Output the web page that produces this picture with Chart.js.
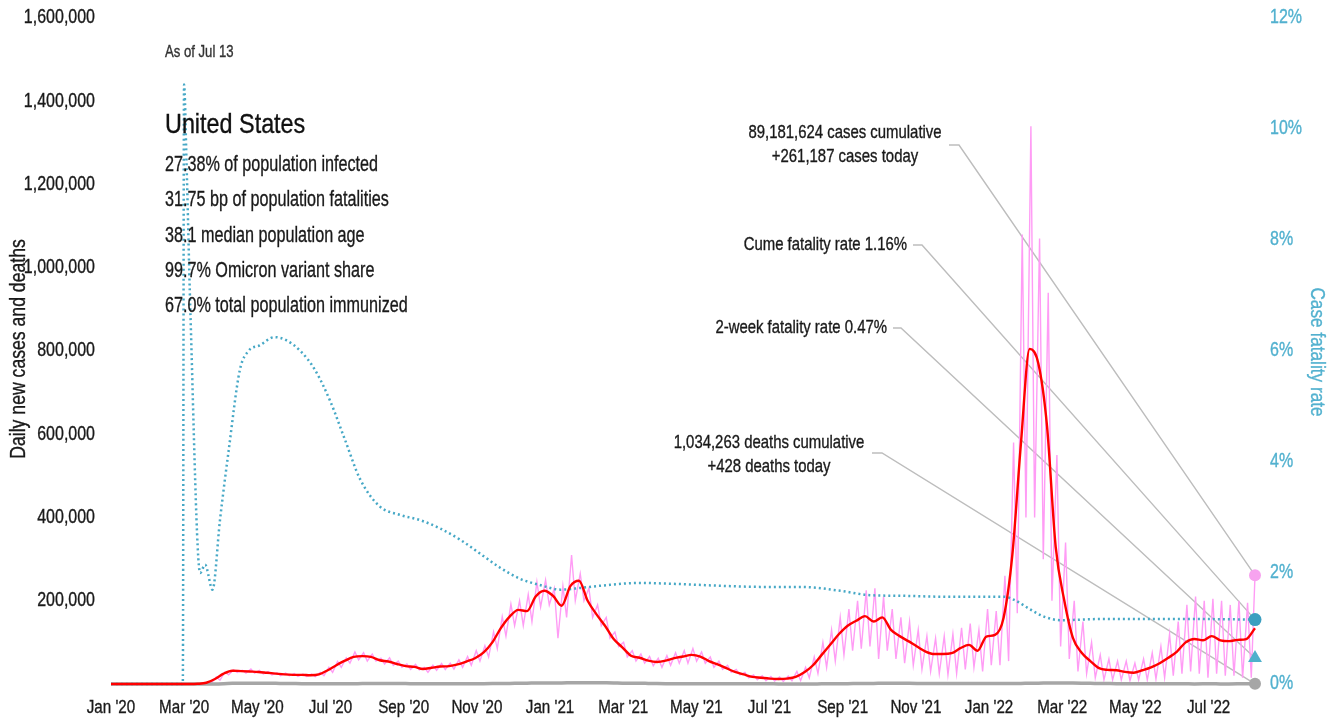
<!DOCTYPE html>
<html>
<head>
<meta charset="utf-8">
<script src="https://cdn.jsdelivr.net/npm/chart.js@4.4.1/dist/chart.umd.min.js"></script>
<style>
  html, body { margin: 0; padding: 0; background: #fff; }
  #wrap { width: 1335px; height: 722px; position: relative; }
</style>
</head>
<body>
<div id="wrap"><canvas id="chart"></canvas></div>
<script>
// ---- Data ----
// x is the day index counted from Jan 1, 2020; the last day is Jul 13, 2022
const LAST_DAY = 924;
const monthLabels = ["Jan '20", "Mar '20", "May '20", "Jul '20", "Sep '20", "Nov '20",
  "Jan '21", "Mar '21", "May '21", "Jul '21", "Sep '21", "Nov '21",
  "Jan '22", "Mar '22", "May '22", "Jul '22"];
const tickStepDays = 59.1;

// 7-day average of new cases, thousands, one value per week (week i starts on day 7*i)
const avgCasesK = [
  0, 0, 0, 0, 0, 0, 0, 0, 0, 0,
  0.5, 3, 12, 25, 32, 31, 30, 29, 27, 25,
  23, 22, 22, 21, 23, 33, 45, 56, 65, 67,
  65, 57, 54, 48, 43, 41, 36, 39, 42, 43,
  47, 54, 62, 76, 100, 135, 162, 178, 175, 210,
  224, 212, 188, 235, 248, 200, 168, 140, 108, 88,
  68, 63, 56, 53, 56, 62, 66, 70, 66, 55,
  47, 38, 29, 23, 17, 15, 13, 12, 13, 17,
  28, 45, 70, 95, 120, 140, 152, 163, 150, 160,
  130, 115, 103, 90, 78, 72, 72, 74, 86, 94,
  80, 114, 118, 160, 310, 580, 805, 770, 620, 330,
  200, 110, 75, 55, 38, 34, 33, 29, 27, 33,
  40, 50, 63, 78, 100, 108, 105, 115, 105, 103,
  106, 108, 134
];

// daily new cases, thousands: weekday high and weekend low of each week
const dailyHighK = [
  0, 0, 0, 0, 0, 0, 0, 0, 0, 0.1,
  0.8, 5, 17, 29, 34, 33, 36, 33, 30, 27,
  26, 25, 24, 24, 28, 40, 54, 63, 77, 75,
  72, 62, 63, 55, 48, 47, 40, 45, 49, 50,
  58, 66, 80, 92, 125, 162, 192, 200, 215, 245,
  250, 230, 235, 310, 265, 230, 190, 160, 125, 100,
  80, 72, 66, 62, 68, 75, 80, 85, 77, 65,
  55, 45, 35, 28, 22, 20, 18, 17, 19, 30,
  40, 65, 100, 130, 160, 180, 200, 225, 230, 210,
  180, 160, 150, 130, 115, 110, 115, 120, 135, 145,
  130, 180, 175, 260, 580, 1080, 1340, 1070, 940, 550,
  340, 200, 150, 100, 70, 60, 55, 55, 50, 60,
  75, 90, 120, 150, 190, 210, 200, 205, 200, 190,
  200, 195
];
const dailyLowK = [
  0, 0, 0, 0, 0, 0, 0, 0, 0, 0,
  0.3, 2, 9, 22, 28, 26, 26, 24, 22, 20,
  20, 18, 18, 18, 20, 28, 40, 50, 58, 55,
  55, 48, 45, 40, 35, 34, 28, 33, 35, 36,
  40, 45, 55, 65, 85, 115, 140, 140, 150, 185,
  190, 110, 160, 200, 200, 160, 140, 110, 90, 65,
  55, 50, 44, 40, 45, 50, 50, 55, 50, 40,
  35, 28, 22, 15, 10, 8, 7, 6, 8, 8,
  15, 25, 40, 55, 70, 80, 85, 90, 60, 80,
  60, 50, 45, 35, 30, 25, 22, 25, 35, 40,
  30, 45, 45, 55, 170, 400, 400, 300, 200, 90,
  60, 30, 25, 15, 10, 10, 10, 8, 10, 10,
  12, 15, 20, 25, 30, 25, 15, 25, 20, 20,
  15, 15
];

// daily deaths, thousands, one value per week
const deathsK = [
  0, 0, 0, 0, 0, 0, 0, 0, 0, 0,
  0, 0.02, 0.15, 0.8, 1.7, 2.1, 2.0, 1.9, 1.8, 1.6,
  1.3, 1.1, 0.9, 0.8, 0.65, 0.6, 0.55, 0.65, 0.8, 1.0,
  1.1, 1.1, 1.05, 1.05, 0.95, 0.85, 0.75, 0.8, 0.75, 0.7,
  0.7, 0.72, 0.8, 0.85, 0.95, 1.15, 1.5, 1.7, 2.0, 2.4,
  2.7, 2.7, 2.6, 3.0, 3.3, 3.1, 3.0, 2.8, 2.5, 2.0,
  1.9, 1.7, 1.4, 1.1, 0.9, 0.85, 0.8, 0.72, 0.7, 0.68,
  0.65, 0.6, 0.55, 0.5, 0.45, 0.4, 0.35, 0.3, 0.28, 0.25,
  0.26, 0.28, 0.33, 0.45, 0.6, 0.8, 1.1, 1.4, 1.5, 1.9,
  2.0, 1.9, 1.7, 1.5, 1.4, 1.3, 1.2, 1.1, 1.1, 1.1,
  1.0, 1.25, 1.3, 1.35, 1.2, 1.4, 1.8, 2.0, 2.3, 2.5,
  2.5, 2.2, 1.9, 1.6, 1.3, 1.1, 0.9, 0.75, 0.6, 0.5,
  0.42, 0.35, 0.34, 0.33, 0.32, 0.3, 0.32, 0.32, 0.3, 0.3,
  0.33, 0.38, 0.43
];

// cumulative case fatality rate, percent
const cfrDays = [0, 58, 59, 61, 64, 72, 76, 82, 88, 95, 104, 111, 120, 132, 141, 153, 165, 177,
  189, 201, 217, 233, 250, 266, 282, 298, 314, 330, 347, 363, 379, 395, 427, 460, 492, 524,
  557, 589, 613, 637, 678, 722, 730, 742, 754, 767, 799, 839, 880, 924];
const cfrPct = [0, 0, 10.8, 9.4, 6.8, 2.0, 2.15, 1.7, 2.95, 4.2, 5.65, 6.0, 6.1, 6.25, 6.2, 6.0, 5.65, 5.1,
  4.4, 3.7, 3.2, 3.05, 2.95, 2.8, 2.6, 2.35, 2.1, 1.9, 1.78, 1.7, 1.73, 1.77, 1.82, 1.8, 1.77, 1.75,
  1.75, 1.68, 1.6, 1.59, 1.57, 1.57, 1.51, 1.35, 1.21, 1.15, 1.17, 1.17, 1.17, 1.16];

const casesToday = 261187;
const deathsToday = 428;
const cumeFatalityRate = 1.16;
const twoWeekFatalityRate = 0.47;

const asOfText = 'As of Jul 13';
const countryName = 'United States';
const statLines = [
  '27.38% of population infected',
  '31.75 bp of population fatalities',
  '38.1 median population age',
  '99.7% Omicron variant share',
  '67.0% total population immunized'
];
const casesLabel = ['89,181,624 cases cumulative', '+261,187 cases today'];
const cumeLabel = 'Cume fatality rate 1.16%';
const twoWeekLabel = '2-week fatality rate 0.47%';
const deathsLabel = ['1,034,263 deaths cumulative', '+428 deaths today'];
const leftTitle = 'Daily new cases and deaths';
const rightTitle = 'Case fatality rate';

// ---- Styling ----
const FONT = "'Liberation Sans', Arial, sans-serif";
const NARROW = 0.82; // horizontal squeeze to mimic a condensed face
const INK = '#1a1a1a';
const BLUE = '#52b1cf';
const PINK = '#ff9cf5';
const GREY_LINE = '#bdbdbd';

// ---- Build points ----
const avgPoints = avgCasesK.map((v, i) => ({ x: i * 7, y: v * 1000 }));
const deathPoints = deathsK.map((v, i) => ({ x: i * 7, y: v * 1000 }));
const dailyPoints = [];
dailyHighK.forEach((v, i) => {
  dailyPoints.push({ x: i * 7 + 1, y: v * 1000 });
  dailyPoints.push({ x: i * 7 + 4, y: dailyLowK[i] * 1000 });
});
dailyPoints.push({ x: LAST_DAY, y: casesToday });
const cfrPoints = cfrDays.map((d, i) => ({ x: d, y: cfrPct[i] }));

function marker(value, axis, color, style, radius) {
  return {
    data: [{ x: LAST_DAY, y: value }],
    yAxisID: axis,
    showLine: false,
    clip: false,
    pointStyle: style,
    pointRadius: radius,
    pointBackgroundColor: color,
    pointBorderColor: color,
    pointBorderWidth: 0,
    order: 0
  };
}

// condensed text: squeeze horizontally around the anchor point
function drawText(ctx, s, x, y, size, align, color, squeeze) {
  ctx.save();
  ctx.translate(x, y);
  ctx.scale(squeeze || NARROW, 1);
  ctx.font = size + 'px ' + FONT;
  ctx.fillStyle = color || INK;
  ctx.strokeStyle = color || INK;
  ctx.lineWidth = 0.35;
  ctx.textAlign = align || 'left';
  ctx.textBaseline = 'middle';
  ctx.fillText(s, 0, 0);
  ctx.strokeText(s, 0, 0);
  ctx.restore();
}

function leader(ctx, x0, y0, x1, px, py) {
  ctx.beginPath();
  ctx.moveTo(x0, y0);
  ctx.lineTo(x1, y0);
  ctx.lineTo(px, py);
  ctx.stroke();
}

const overlay = {
  id: 'overlay',
  beforeDatasetsDraw(chart) {
    const { ctx, scales } = chart;
    const ex = scales.x.getPixelForValue(LAST_DAY);
    ctx.save();
    ctx.strokeStyle = GREY_LINE;
    ctx.lineWidth = 1.4;
    leader(ctx, 949, 145, 959, ex, scales.y.getPixelForValue(casesToday));
    leader(ctx, 913, 245, 922, ex, scales.y1.getPixelForValue(cumeFatalityRate));
    leader(ctx, 893, 328, 901, ex, scales.y1.getPixelForValue(twoWeekFatalityRate));
    leader(ctx, 872, 453, 882, ex, scales.y.getPixelForValue(deathsToday));
    ctx.restore();
  },
  afterDraw(chart) {
    const { ctx, scales } = chart;
    ctx.save();

    // tick labels, placed by the scales
    scales.x.ticks.forEach((t, i) => {
      drawText(ctx, monthLabels[i], scales.x.getPixelForValue(t.value), 708, 18.5, 'center', INK);
    });
    scales.y.ticks.forEach(t => {
      if (t.value === 0) return;
      drawText(ctx, t.value.toLocaleString('en-US'), 95, scales.y.getPixelForValue(t.value), 19.5, 'right', INK);
    });
    scales.y1.ticks.forEach(t => {
      drawText(ctx, t.value + '%', 1270, scales.y1.getPixelForValue(t.value), 19.5, 'left', BLUE);
    });

    drawText(ctx, asOfText, 165, 53, 16, 'left', '#333');
    drawText(ctx, countryName, 165, 125, 28.5, 'left', '#111');
    statLines.forEach((s, i) => drawText(ctx, s, 165, 165 + i * 35.3, 22, 'left', INK, 0.735));

    drawText(ctx, casesLabel[0], 845, 133, 18.2, 'center');
    drawText(ctx, casesLabel[1], 845, 157, 18.2, 'center');
    drawText(ctx, cumeLabel, 907, 245, 18.2, 'right');
    drawText(ctx, twoWeekLabel, 887, 328, 18.2, 'right');
    drawText(ctx, deathsLabel[0], 769, 443, 18.2, 'center');
    drawText(ctx, deathsLabel[1], 769, 467, 18.2, 'center');

    // axis titles
    ctx.save();
    ctx.translate(19, 349);
    ctx.rotate(-Math.PI / 2);
    drawText(ctx, leftTitle, 0, 0, 21.5, 'center', INK);
    ctx.restore();
    ctx.save();
    ctx.translate(1317, 352);
    ctx.rotate(Math.PI / 2);
    drawText(ctx, rightTitle, 0, 0, 21, 'center', BLUE);
    ctx.restore();
    ctx.restore();
  }
};

new Chart(document.getElementById('chart'), {
  type: 'line',
  data: {
    datasets: [
      marker(casesToday, 'y', '#f7a3ef', 'circle', 6),
      marker(cumeFatalityRate, 'y1', '#3c9fc0', 'circle', 6.5),
      marker(twoWeekFatalityRate, 'y1', '#4fb0cc', 'triangle', 8),
      marker(deathsToday, 'y', '#a6a6a6', 'circle', 6),
      {
        data: avgPoints,
        borderColor: '#ff0000',
        borderWidth: 2.4,
        pointRadius: 0,
        clip: false,
        cubicInterpolationMode: 'monotone',
        order: 1
      },
      {
        data: cfrPoints,
        yAxisID: 'y1',
        borderColor: '#46a8c6',
        borderWidth: 2.5,
        borderDash: [2, 3],
        pointRadius: 0,
        clip: false,
        cubicInterpolationMode: 'monotone',
        order: 2
      },
      {
        data: deathPoints,
        borderColor: '#a6a6a6',
        borderWidth: 3.5,
        pointRadius: 0,
        clip: false,
        cubicInterpolationMode: 'monotone',
        order: 3
      },
      {
        data: dailyPoints,
        borderColor: PINK,
        borderWidth: 1.4,
        pointRadius: 0,
        clip: false,
        tension: 0,
        order: 4
      }
    ]
  },
  options: {
    responsive: true,
    maintainAspectRatio: false,
    animation: false,
    layout: { padding: { top: 18, right: 0, bottom: 0, left: 0 } },
    plugins: { legend: { display: false }, tooltip: { enabled: false } },
    scales: {
      x: {
        type: 'linear',
        min: 0,
        max: LAST_DAY,
        grid: { display: false, drawTicks: false },
        border: { display: false },
        afterBuildTicks: s => { s.ticks = monthLabels.map((_, i) => ({ value: i * tickStepDays })); },
        afterFit: s => { s.height = 38; },
        ticks: { display: false, autoSkip: false, maxRotation: 0 }
      },
      y: {
        position: 'left',
        min: 0,
        max: 1600000,
        grid: { display: false, drawTicks: false },
        border: { display: false },
        afterFit: s => { s.width = 111; },
        ticks: { display: false, stepSize: 200000 }
      },
      y1: {
        position: 'right',
        min: 0,
        max: 12,
        grid: { display: false, drawTicks: false },
        border: { display: false },
        afterFit: s => { s.width = 80; },
        ticks: { display: false, stepSize: 2 }
      }
    }
  },
  plugins: [overlay]
});
</script>
</body>
</html>
